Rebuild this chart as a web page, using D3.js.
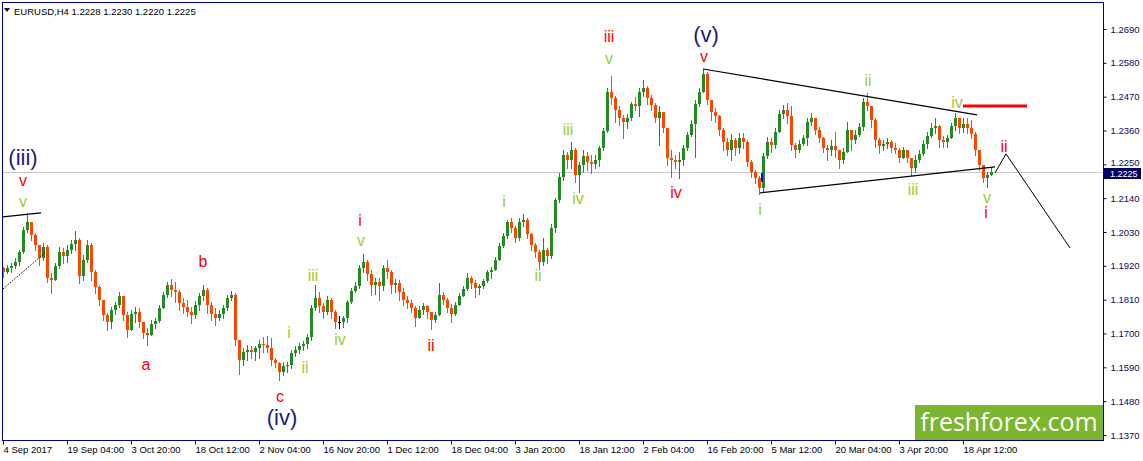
<!DOCTYPE html>
<html><head><meta charset="utf-8">
<script src="https://cdn.jsdelivr.net/npm/d3@7"></script>
<style>body{margin:0;background:#fff;} svg{display:block;}</style>
</head><body>
<svg id="chart" width="1143" height="461"></svg>
<script>
// ---------------- DATA ----------------
const symbol = "EURUSD,H4";
const headerValues = [1.2228, 1.2230, 1.2220, 1.2225];
const openFirst = 1.1913;
const highs = [
1.1917,1.1923,1.1930,1.1946,1.1972,1.2047,1.2092,1.2063,1.2027,1.1988,
1.1995,1.1988,1.1897,1.1930,1.1982,1.1978,1.1988,1.2004,1.2034,1.2011,
1.1956,1.2004,1.1995,1.1907,1.1858,1.1809,1.1767,1.1787,1.1803,1.1835,
1.1822,1.1770,1.1777,1.1787,1.1783,1.1728,1.1718,1.1744,1.1751,1.1793,
1.1835,1.1868,1.1878,1.1868,1.1842,1.1816,1.1809,1.1787,1.1806,1.1832,
1.1858,1.1848,1.1803,1.1783,1.1777,1.1793,1.1826,1.1839,1.1832,1.1679,
1.1653,1.1663,1.1660,1.1660,1.1679,1.1689,1.1692,1.1686,1.1621,1.1608,
1.1608,1.1608,1.1647,1.1660,1.1670,1.1676,1.1699,1.1793,1.1858,1.1835,
1.1800,1.1822,1.1816,1.1777,1.1757,1.1757,1.1809,1.1848,1.1868,1.1923,
1.1959,1.1939,1.1907,1.1881,1.1881,1.1923,1.1939,1.1907,1.1878,1.1874,
1.1848,1.1822,1.1809,1.1790,1.1790,1.1800,1.1793,1.1770,1.1770,1.1865,
1.1835,1.1816,1.1796,1.1803,1.1832,1.1855,1.1897,1.1887,1.1874,1.1861,
1.1878,1.1907,1.1917,1.1949,1.1995,1.2027,1.2069,1.2076,1.2050,1.2076,
1.2089,1.2076,1.2027,1.1995,1.1972,1.2011,1.1978,1.2056,1.2141,1.2222,
1.2297,1.2290,1.2323,1.2303,1.2258,1.2297,1.2290,1.2281,1.2281,1.2310,
1.2368,1.2498,1.2537,1.2472,1.2440,1.2411,1.2414,1.2453,1.2469,1.2498,
1.2524,1.2505,1.2476,1.2450,1.2440,1.2420,1.2362,1.2297,1.2281,1.2290,
1.2313,1.2355,1.2394,1.2459,1.2498,1.2560,1.2550,1.2459,1.2433,1.2411,
1.2368,1.2336,1.2349,1.2336,1.2352,1.2352,1.2329,1.2264,1.2232,1.2212,
1.2287,1.2339,1.2336,1.2368,1.2427,1.2443,1.2450,1.2440,1.2320,1.2329,
1.2346,1.2401,1.2417,1.2394,1.2372,1.2339,1.2313,1.2329,1.2355,1.2297,
1.2303,1.2388,1.2362,1.2362,1.2385,1.2466,1.2482,1.2440,1.2401,1.2336,
1.2329,1.2336,1.2329,1.2320,1.2303,1.2307,1.2297,1.2271,1.2281,1.2297,
1.2329,1.2355,1.2385,1.2401,1.2378,1.2342,1.2346,1.2385,1.2417,1.2401,
1.2401,1.2401,1.2394,1.2355,1.2297,1.2248,1.2225,1.2242];
const lows = [
1.1884,1.1897,1.1900,1.1913,1.1923,1.1962,1.2030,1.2004,1.1972,1.1923,
1.1939,1.1868,1.1832,1.1874,1.1913,1.1930,1.1933,1.1962,1.1972,1.1865,
1.1874,1.1933,1.1874,1.1832,1.1793,1.1744,1.1712,1.1718,1.1764,1.1787,
1.1744,1.1689,1.1712,1.1738,1.1722,1.1686,1.1663,1.1696,1.1718,1.1738,
1.1783,1.1819,1.1822,1.1803,1.1777,1.1767,1.1757,1.1735,1.1751,1.1777,
1.1809,1.1767,1.1744,1.1728,1.1744,1.1751,1.1777,1.1809,1.1663,1.1569,
1.1598,1.1614,1.1621,1.1614,1.1621,1.1640,1.1640,1.1598,1.1592,1.1549,
1.1566,1.1575,1.1588,1.1627,1.1637,1.1647,1.1653,1.1679,1.1777,1.1770,
1.1751,1.1764,1.1751,1.1718,1.1718,1.1722,1.1738,1.1800,1.1835,1.1848,
1.1900,1.1874,1.1826,1.1829,1.1809,1.1842,1.1881,1.1832,1.1835,1.1809,
1.1793,1.1783,1.1770,1.1725,1.1751,1.1764,1.1751,1.1715,1.1738,1.1761,
1.1796,1.1770,1.1738,1.1761,1.1793,1.1822,1.1842,1.1848,1.1819,1.1829,
1.1848,1.1868,1.1881,1.1907,1.1939,1.1982,1.2011,1.2030,1.1998,1.2004,
1.2050,1.2011,1.1972,1.1949,1.1910,1.1923,1.1930,1.1946,1.2030,1.2128,
1.2199,1.2238,1.2238,1.2193,1.2160,1.2225,1.2232,1.2222,1.2238,1.2245,
1.2297,1.2355,1.2446,1.2388,1.2378,1.2336,1.2368,1.2394,1.2427,1.2407,
1.2472,1.2446,1.2427,1.2388,1.2313,1.2355,1.2248,1.2209,1.2238,1.2206,
1.2248,1.2297,1.2342,1.2274,1.2440,1.2485,1.2446,1.2394,1.2388,1.2346,
1.2297,1.2281,1.2264,1.2281,1.2287,1.2303,1.2245,1.2209,1.2190,1.2154,
1.2160,1.2271,1.2290,1.2303,1.2378,1.2401,1.2385,1.2297,1.2274,1.2290,
1.2313,1.2313,1.2378,1.2349,1.2323,1.2290,1.2264,1.2281,1.2274,1.2238,
1.2255,1.2290,1.2297,1.2320,1.2342,1.2362,1.2427,1.2372,1.2307,1.2287,
1.2297,1.2303,1.2290,1.2287,1.2258,1.2274,1.2258,1.2216,1.2225,1.2258,
1.2281,1.2303,1.2339,1.2352,1.2307,1.2307,1.2307,1.2336,1.2362,1.2352,
1.2355,1.2352,1.2336,1.2281,1.2232,1.2193,1.2177,1.2216];
const closes = [
1.1900,1.1913,1.1920,1.1933,1.1965,1.2037,1.2063,1.2021,1.1988,1.1946,
1.1982,1.1881,1.1874,1.1920,1.1965,1.1952,1.1972,1.1991,1.2004,1.1887,
1.1939,1.1988,1.1900,1.1852,1.1809,1.1761,1.1738,1.1777,1.1793,1.1822,
1.1761,1.1712,1.1764,1.1770,1.1738,1.1702,1.1696,1.1731,1.1741,1.1783,
1.1826,1.1858,1.1842,1.1835,1.1800,1.1787,1.1770,1.1761,1.1793,1.1822,
1.1842,1.1793,1.1764,1.1751,1.1764,1.1783,1.1816,1.1826,1.1679,1.1614,
1.1640,1.1647,1.1640,1.1653,1.1666,1.1663,1.1653,1.1614,1.1605,1.1575,
1.1595,1.1598,1.1637,1.1647,1.1660,1.1666,1.1689,1.1783,1.1816,1.1790,
1.1770,1.1809,1.1770,1.1738,1.1738,1.1751,1.1803,1.1839,1.1855,1.1913,
1.1933,1.1894,1.1858,1.1868,1.1855,1.1913,1.1900,1.1858,1.1865,1.1835,
1.1809,1.1800,1.1783,1.1751,1.1777,1.1790,1.1770,1.1744,1.1761,1.1826,
1.1809,1.1783,1.1764,1.1793,1.1822,1.1845,1.1881,1.1865,1.1848,1.1855,
1.1871,1.1900,1.1907,1.1939,1.1985,1.2017,1.2063,1.2043,1.2011,1.2063,
1.2069,1.2024,1.1988,1.1965,1.1933,1.1972,1.1952,1.2043,1.2134,1.2209,
1.2281,1.2264,1.2297,1.2216,1.2248,1.2277,1.2258,1.2251,1.2264,1.2303,
1.2359,1.2485,1.2466,1.2427,1.2401,1.2388,1.2401,1.2446,1.2440,1.2485,
1.2498,1.2466,1.2443,1.2401,1.2420,1.2368,1.2271,1.2264,1.2258,1.2264,
1.2303,1.2346,1.2381,1.2446,1.2485,1.2544,1.2459,1.2420,1.2407,1.2362,
1.2323,1.2297,1.2329,1.2303,1.2336,1.2323,1.2258,1.2225,1.2206,1.2173,
1.2277,1.2323,1.2313,1.2355,1.2414,1.2427,1.2407,1.2313,1.2297,1.2316,
1.2336,1.2388,1.2401,1.2362,1.2336,1.2303,1.2297,1.2310,1.2297,1.2264,
1.2290,1.2362,1.2329,1.2346,1.2372,1.2453,1.2440,1.2394,1.2329,1.2310,
1.2316,1.2323,1.2303,1.2297,1.2271,1.2297,1.2271,1.2238,1.2264,1.2284,
1.2316,1.2342,1.2368,1.2375,1.2329,1.2323,1.2336,1.2375,1.2401,1.2368,
1.2381,1.2368,1.2349,1.2297,1.2248,1.2206,1.2216,1.2225];
const lastPrice = 1.2225;

const xTickLabels = ["4 Sep 2017","19 Sep 04:00","3 Oct 20:00","18 Oct 12:00","2 Nov 04:00","16 Nov 20:00","1 Dec 12:00","18 Dec 04:00","3 Jan 20:00","18 Jan 12:00","2 Feb 04:00","16 Feb 20:00","5 Mar 12:00","20 Mar 04:00","3 Apr 20:00","18 Apr 12:00"];
const xTickIndex = [0,16,32,48,64,80,96,112,128,144,160,176,192,208,224,240];
const yTicks = [1.2690,1.2580,1.2470,1.2360,1.2250,1.2140,1.2030,1.1920,1.1810,1.1700,1.1590,1.1480,1.1370];

// annotation lines: [index, price] points
const lineTopLeft = [[0,1.2079],[9.5,1.2092]];
const lineDiagLeft = [[0,1.1845],[10.5,1.1962]];
const triangleTop = [[175,1.2560],[243.5,1.2411]];
const triangleBottom = [[189.25,1.2157],[248,1.2242]];
const projection = [[248,1.2222],[250.75,1.2284],[266.75,1.1978]];
const redLevel = [[240,1.2440],[256,1.2440]];
const blueMark = [[189.75,1.2222],[189.75,1.2193]];

// wave labels: text, index, price, group
const waveText  = ["(iii)","v","v","a","b","c","(iv)","i","ii","iii","iv","v","i","ii","i","ii","iii","iv","iii","v","(v)","v","iv","i","ii","iii","iv","ii","v","i"];
const waveIndex = [5,5,5,35.75,50,69.25,69.75,71.5,75.5,77.5,84.25,89.5,89.25,107,125.25,133.75,141.25,143.75,151.5,151.5,175.75,175.25,168.25,189.25,216.25,227.5,238.5,250.25,246,245.75];
const wavePrice = [1.2271,1.2199,1.2128,1.1598,1.1933,1.1494,1.1426,1.1702,1.1588,1.1887,1.1679,1.2001,1.2069,1.1660,1.2128,1.1887,1.2362,1.2138,1.2664,1.2593,1.2671,1.2599,1.2160,1.2102,1.2521,1.2167,1.2450,1.2307,1.2141,1.2092];
const waveGroup = ["big","red","green","red","red","red","big","green","green","green","green","green","red","red","green","green","green","green","red","green","big","red","red","green","green","green","green","red","green","red"];

// ---------------- DRAW ----------------
const W = 1143, H = 461;
const plot = {left: 2, right: 1103, top: 2, bottom: 440};
const svg = d3.select("#chart");
const FONT = "'Liberation Sans', Arial, sans-serif";
const NAVY = "#000080";
const colors = {up: "#228B22", down: "#FF4500", doji: "#000000"};
const waveColors = {big: "#1c1c7c", red: "#ff0000", green: "#9acd32"};
const waveSize = {big: 22, red: 16, green: 16};

const x = d3.scaleLinear().domain([0, 275]).range([3, 1103]);
const y = d3.scaleLinear().domain([1.1370, 1.2690]).range([435, 29]);

svg.append("rect").attr("width", W).attr("height", H).attr("fill", "#fff");

svg.append("defs").append("clipPath").attr("id", "clip")
  .append("rect").attr("x", plot.left).attr("y", plot.top)
  .attr("width", plot.right - plot.left).attr("height", plot.bottom - plot.top);

// current price line
svg.append("line")
  .attr("x1", plot.left).attr("x2", plot.right)
  .attr("y1", Math.round(y(lastPrice)) + 0.5).attr("y2", Math.round(y(lastPrice)) + 0.5)
  .attr("stroke", "#c8c8c8").attr("stroke-width", 1);

// candles
const candles = closes.map((c, i) => {
  const o = i === 0 ? openFirst : closes[i - 1];
  const h = Math.max(highs[i], o, c), l = Math.min(lows[i], o, c);
  return {i, o, h, l, c};
});
const candleColor = d => d.c > d.o ? colors.up : d.c < d.o ? colors.down : colors.doji;
const cg = svg.append("g").attr("clip-path", "url(#clip)").attr("shape-rendering", "crispEdges");
cg.selectAll("line.wick").data(candles).join("line")
  .attr("class", "wick")
  .attr("x1", d => Math.round(x(d.i)) + 0.5).attr("x2", d => Math.round(x(d.i)) + 0.5)
  .attr("y1", d => Math.round(y(d.h))).attr("y2", d => Math.round(y(d.l)) + 1)
  .attr("stroke", candleColor);
cg.selectAll("rect.body").data(candles).join("rect")
  .attr("class", "body")
  .attr("x", d => Math.round(x(d.i)) - 1)
  .attr("width", 3)
  .attr("y", d => Math.round(y(Math.max(d.o, d.c))))
  .attr("height", d => Math.max(1, Math.round(y(Math.min(d.o, d.c))) - Math.round(y(Math.max(d.o, d.c)))))
  .attr("fill", candleColor);

// annotation lines
const lineGen = d3.line().x(d => x(d[0])).y(d => y(d[1]));
const ag = svg.append("g").attr("clip-path", "url(#clip)");
ag.append("path").attr("d", lineGen(lineTopLeft)).attr("stroke", "#000").attr("fill", "none").attr("stroke-width", 1.2);
ag.append("path").attr("d", lineGen(lineDiagLeft)).attr("stroke", "#000").attr("fill", "none").attr("stroke-width", 1).attr("stroke-dasharray", "1.5,1.5");
ag.append("path").attr("d", lineGen(triangleTop)).attr("stroke", "#000").attr("fill", "none").attr("stroke-width", 1.2);
ag.append("path").attr("d", lineGen(triangleBottom)).attr("stroke", "#000").attr("fill", "none").attr("stroke-width", 1.2);
ag.append("path").attr("d", lineGen(projection)).attr("stroke", "#000").attr("fill", "none").attr("stroke-width", 1);
ag.append("path").attr("d", lineGen(redLevel)).attr("stroke", "#ff0000").attr("fill", "none").attr("stroke-width", 3);
ag.append("path").attr("d", lineGen(blueMark)).attr("stroke", "#0000ff").attr("fill", "none").attr("stroke-width", 2);

// wave labels
svg.append("g").selectAll("text").data(waveText).join("text")
  .attr("x", (d, i) => x(waveIndex[i]))
  .attr("y", (d, i) => y(wavePrice[i]))
  .attr("text-anchor", "middle")
  .attr("dominant-baseline", "central")
  .attr("font-family", FONT)
  .attr("font-size", (d, i) => waveSize[waveGroup[i]])
  .attr("fill", (d, i) => waveColors[waveGroup[i]])
  .text(d => d);

// watermark
svg.append("rect").attr("x", 915).attr("y", 405).attr("width", plot.right - 915).attr("height", plot.bottom - 405).attr("fill", "#7cb530");
svg.append("text").attr("x", 1009).attr("y", 431).attr("text-anchor", "middle")
  .attr("font-family", "'Open Sans', 'DejaVu Sans', sans-serif").attr("font-size", 25).attr("fill", "#fff")
  .text("freshforex.com");

// frame
svg.append("rect").attr("x", plot.left + 0.5).attr("y", plot.top + 0.5)
  .attr("width", plot.right - plot.left).attr("height", plot.bottom - plot.top)
  .attr("fill", "none").attr("stroke", NAVY).attr("stroke-width", 1).attr("shape-rendering", "crispEdges");

// right axis
const yAxis = d3.axisRight(y).tickValues(yTicks).tickFormat(d3.format(".4f")).tickSize(3).tickPadding(4);
const yg = svg.append("g").attr("transform", `translate(${plot.right + 0.5},0)`).call(yAxis);
yg.select(".domain").remove();
yg.selectAll("line").attr("stroke", NAVY);
yg.selectAll("text").attr("font-family", FONT).attr("font-size", 9.5).attr("fill", "#0a0a60");
// the tick label that sits under the price box is nudged up slightly, as in the reference
yg.selectAll(".tick").filter(d => Math.abs(d - lastPrice) < 0.004).select("text").attr("dy", "0.1em");

// price label
const py = Math.round(y(lastPrice));
svg.append("rect").attr("x", plot.right + 1).attr("y", py - 4).attr("width", 37).attr("height", 11).attr("fill", "#000060");
svg.append("text").attr("x", plot.right + 7).attr("y", py + 2).attr("dominant-baseline", "central")
  .attr("font-family", FONT).attr("font-size", 9).attr("fill", "#fff").text(lastPrice.toFixed(4));

// bottom axis
const xAxis = d3.axisBottom(x).tickValues(xTickIndex).tickFormat((d, i) => xTickLabels[i]).tickSize(4).tickPadding(2);
const xg = svg.append("g").attr("transform", `translate(0,${plot.bottom + 0.5})`).call(xAxis);
xg.select(".domain").remove();
xg.selectAll("line").attr("stroke", NAVY);
xg.selectAll("text").attr("text-anchor", "start").attr("font-family", FONT).attr("font-size", 9.5).attr("fill", "#000");

// header
svg.append("path").attr("d", "M4,8 L10,8 L7,12 Z").attr("fill", "#000");
svg.append("text").attr("x", 14).attr("y", 15).attr("font-family", FONT).attr("font-size", 9.5).attr("fill", "#000")
  .text(symbol + "  " + headerValues.map(v => v.toFixed(4)).join(" "));
</script>
</body></html>
